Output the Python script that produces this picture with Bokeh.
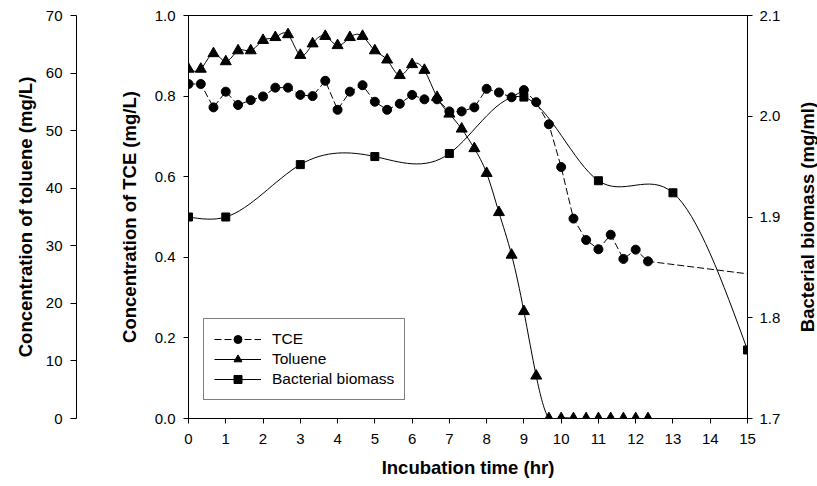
import numpy as np
from bokeh.plotting import figure
from bokeh.layouts import row
from bokeh.models import (Range1d, LinearAxis, FixedTicker, PrintfTickFormatter,
                          Legend, LegendItem, ColumnDataSource, Label)
from bokeh.embed import file_html
from bokeh.resources import INLINE

# ---------------- data ----------------
sample_time = [0.0, 0.33, 0.67, 1.0, 1.33, 1.67, 2.0, 2.33, 2.67, 3.0, 3.33, 3.67,
               4.0, 4.33, 4.67, 5.0, 5.33, 5.67, 6.0, 6.33, 6.67, 7.0, 7.33, 7.67,
               8.0, 8.33, 8.67, 9.0, 9.33, 9.67, 10.0, 10.33, 10.67, 11.0, 11.33,
               11.67, 12.0, 12.33]

tce_value = [0.830, 0.830, 0.772, 0.811, 0.778, 0.790, 0.799, 0.821, 0.821, 0.803,
             0.800, 0.838, 0.766, 0.811, 0.827, 0.786, 0.766, 0.781, 0.803, 0.792,
             0.792, 0.762, 0.762, 0.772, 0.818, 0.809, 0.797, 0.815, 0.785, 0.730,
             0.624, 0.496, 0.443, 0.420, 0.456, 0.396, 0.419, 0.390]
tce_end_time = 15.0
tce_end_value = 0.359

toluene_value = [60.7, 60.7, 63.4, 62.0, 63.9, 63.9, 65.7, 66.2, 66.7, 63.1, 65.1,
                 66.4, 64.8, 66.2, 66.4, 63.9, 62.3, 59.6, 61.5, 60.5, 55.8, 52.9,
                 50.3, 46.9, 42.6, 35.8, 28.4, 18.6, 7.4, 0.0, 0.0, 0.0, 0.0, 0.0,
                 0.0, 0.0, 0.0, 0.0]

biomass_time = [0, 1, 3, 5, 7, 9, 11, 13, 15]
biomass_value = [1.900, 1.900, 1.952, 1.960, 1.963, 2.019, 1.936, 1.924, 1.768]

x_ticks = list(range(0, 16))
tce_ticks = [0.0, 0.2, 0.4, 0.6, 0.8, 1.0]
toluene_ticks = [0, 10, 20, 30, 40, 50, 60, 70]
biomass_ticks = [1.7, 1.8, 1.9, 2.0, 2.1]

FONT = "Liberation Sans"


def spline_segments(xs, ys):
    """Natural cubic spline through the points, as Bezier segments."""
    x = np.asarray(xs, float)
    y = np.asarray(ys, float)
    n = len(x)
    h = np.diff(x)
    A = np.zeros((n, n))
    b = np.zeros(n)
    A[0, 0] = 1.0
    A[-1, -1] = 1.0
    for i in range(1, n - 1):
        A[i, i - 1] = h[i - 1]
        A[i, i] = 2 * (h[i - 1] + h[i])
        A[i, i + 1] = h[i]
        b[i] = 6 * ((y[i + 1] - y[i]) / h[i] - (y[i] - y[i - 1]) / h[i - 1])
    M = np.linalg.solve(A, b)
    s = (y[1:] - y[:-1]) / h
    d0 = s - h * (2 * M[:-1] + M[1:]) / 6
    d1 = s + h * (M[:-1] + 2 * M[1:]) / 6
    return ColumnDataSource(dict(
        x0=x[:-1], y0=y[:-1], x1=x[1:], y1=y[1:],
        cx0=x[:-1] + h / 3, cy0=y[:-1] + d0 * h / 3,
        cx1=x[1:] - h / 3, cy1=y[1:] - d1 * h / 3))


p = figure(width=795, height=486, x_range=Range1d(0, 15), y_range=Range1d(0, 1.0),
           output_backend="svg", toolbar_location=None,
           min_border_left=188, min_border_right=48, min_border_top=15,
           min_border_bottom=68)
p.extra_y_ranges = {"tol": Range1d(0, 70), "bio": Range1d(1.7, 2.1)}
p.xgrid.visible = False
p.ygrid.visible = False
p.outline_line_color = "black"
p.outline_line_width = 1
p.background_fill_color = "white"
p.border_fill_color = "white"


def style(ax, ticks, fmt=None, tick_out=5):
    ax.ticker = FixedTicker(ticks=ticks)
    if fmt:
        ax.formatter = PrintfTickFormatter(format=fmt)
    ax.major_tick_in = 0
    ax.major_tick_out = tick_out
    ax.minor_tick_line_color = None
    ax.axis_line_color = "black"
    ax.major_tick_line_color = "black"
    ax.major_label_text_font = FONT
    ax.major_label_text_font_size = "15px"
    ax.major_label_text_color = "black"
    ax.major_label_standoff = 8
    ax.axis_label_text_font = FONT
    ax.axis_label_text_font_style = "bold"
    ax.axis_label_text_font_size = "18.5px"
    ax.axis_label_text_color = "black"


xax = p.xaxis[0]
style(xax, x_ticks)
xax.major_label_standoff = 10
xax.axis_label = "Incubation time (hr)"
xax.axis_label_standoff = 10

yax = p.yaxis[0]
style(yax, tce_ticks, "%.1f")
yax.axis_label = "Concentration of TCE (mg/L)"
yax.axis_label_standoff = 12

# empty axis that only keeps the gap between the two left axes
spacer = LinearAxis(ticker=FixedTicker(ticks=[0.5]), axis_line_color=None,
                    major_tick_line_color=None, minor_tick_line_color=None,
                    major_tick_out=39, major_tick_in=0,
                    major_label_text_color=None,
                    major_label_text_font_size="0px")
p.add_layout(spacer, "left")

tol_ax = LinearAxis(y_range_name="tol")
style(tol_ax, toluene_ticks, tick_out=6)
tol_ax.axis_label = "Concentration of toluene (mg/L)"
tol_ax.axis_label_standoff = 7
p.add_layout(tol_ax, "left")

bio_ax = LinearAxis(y_range_name="bio")
style(bio_ax, biomass_ticks, "%.1f")
bio_ax.major_label_standoff = 7
p.add_layout(bio_ax, "right")

# ---------------- glyphs ----------------
tce_line = p.line(sample_time + [tce_end_time], tce_value + [tce_end_value],
                  line_color="black", line_width=1, line_dash="7 3")
tce_pts = p.scatter(sample_time, tce_value, marker="circle", size=9,
                    fill_color="black", line_color="black")

tol_curve = p.bezier(x0="x0", y0="y0", x1="x1", y1="y1", cx0="cx0", cy0="cy0",
                     cx1="cx1", cy1="cy1",
                     source=spline_segments(sample_time, toluene_value),
                     line_color="black", line_width=1, y_range_name="tol")
tol_pts = p.scatter(sample_time, toluene_value, marker="triangle", size=11,
                    fill_color="black", line_color="black", y_range_name="tol")

bio_curve = p.bezier(x0="x0", y0="y0", x1="x1", y1="y1", cx0="cx0", cy0="cy0",
                     cx1="cx1", cy1="cy1",
                     source=spline_segments(biomass_time, biomass_value),
                     line_color="black", line_width=1, y_range_name="bio")
bio_pts = p.scatter(biomass_time, biomass_value, marker="square", size=8,
                    fill_color="black", line_color="black", y_range_name="bio")

legend = Legend(items=[
    LegendItem(label="TCE", renderers=[tce_line, tce_pts]),
    LegendItem(label="Toluene", renderers=[tol_curve, tol_pts]),
    LegendItem(label="Bacterial biomass", renderers=[bio_curve, bio_pts]),
], location=(15, 18))
legend.glyph_width = 47
legend.glyph_height = 20
legend.label_height = 20
legend.label_standoff = 11
legend.padding = 10
legend.spacing = 0
legend.margin = 0
legend.border_line_color = "black"
legend.border_line_width = 1
legend.background_fill_color = "white"
legend.background_fill_alpha = 1
legend.label_text_font = FONT
legend.label_text_font_size = "15.5px"
legend.label_text_color = "black"
p.add_layout(legend)

# ---------------- right-hand axis title (reads bottom to top) ----------------
p2 = figure(width=22, height=486, x_range=Range1d(0, 1), y_range=Range1d(0, 1),
            output_backend="svg", toolbar_location=None,
            x_axis_type=None, y_axis_type=None,
            min_border_left=0, min_border_right=0, min_border_top=15,
            min_border_bottom=68)
p2.outline_line_color = None
p2.xgrid.visible = False
p2.ygrid.visible = False
p2.background_fill_color = "white"
p2.border_fill_color = "white"
p2.add_layout(Label(x=0.55, y=0.5, text="Bacterial biomass (mg/ml)", angle=90,
                    angle_units="deg", text_align="center", text_baseline="middle",
                    text_font=FONT, text_font_style="bold", text_font_size="18.5px",
                    text_color="black"))

layout = row(p, p2, spacing=0)
open("out.html", "w").write(file_html(layout, INLINE))
